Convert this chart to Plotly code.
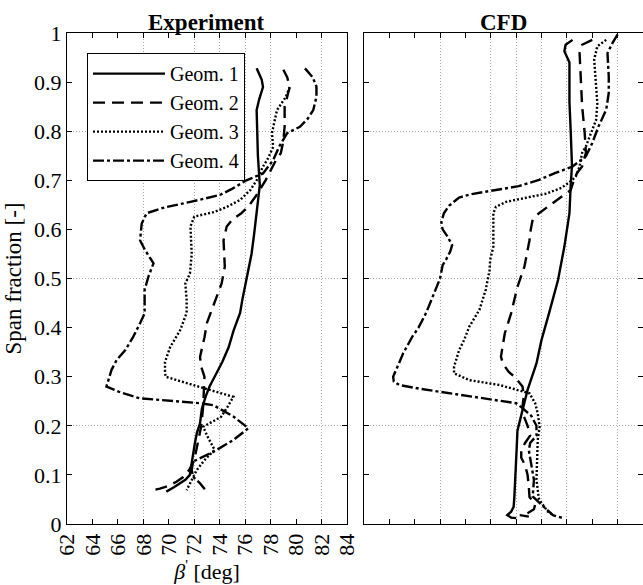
import plotly.graph_objects as go

# ---- measured flow angle profiles: span fraction vs beta' [deg] ----
# Experiment
exp_g1_span = [0.928, 0.905, 0.89, 0.865, 0.843, 0.80, 0.75, 0.69, 0.63, 0.59, 0.55, 0.50, 0.46, 0.43, 0.395,
               0.36, 0.33, 0.30, 0.28, 0.26, 0.235, 0.205, 0.185, 0.165, 0.14, 0.12, 0.10, 0.09, 0.083, 0.075, 0.066]
exp_g1_beta = [76.9, 77.3, 77.4, 77.1, 76.9, 76.95, 77.0, 77.15, 76.9, 76.7, 76.5, 76.1, 75.8, 75.6, 75.1,
               74.7, 74.2, 73.6, 73.2, 72.9, 72.6, 72.45, 72.2, 72.05, 71.9, 71.8, 71.65, 71.3, 70.9, 70.4, 69.8]

exp_g2_span = [0.925, 0.91, 0.89, 0.87, 0.85, 0.81, 0.78, 0.755, 0.74, 0.72, 0.70, 0.67, 0.645, 0.633, 0.62,
               0.606, 0.578, 0.55, 0.524, 0.49, 0.45, 0.41, 0.38, 0.34, 0.32, 0.30, 0.27, 0.24, 0.20, 0.165,
               0.13, 0.11, 0.095, 0.086, 0.078, 0.072, 0.069]
exp_g2_beta = [79.0, 79.3, 79.5, 79.3, 79.1, 79.1, 79.0, 78.8, 78.4, 78.0, 77.6, 76.9, 76.2, 75.7, 75.0,
               74.55, 74.3, 74.35, 74.4, 74.15, 73.6, 73.0, 72.8, 72.45, 72.55, 72.8, 72.75, 72.7, 72.55, 72.3,
               72.0, 71.6, 71.1, 70.6, 70.0, 69.3, 68.8]

exp_g3_span = [0.89, 0.87, 0.843, 0.82, 0.796, 0.768, 0.745, 0.728, 0.70, 0.68, 0.66, 0.645, 0.635, 0.626, 0.606,
               0.55, 0.51, 0.49, 0.456, 0.43, 0.395, 0.36, 0.33, 0.31, 0.30, 0.287, 0.273, 0.259, 0.238, 0.218,
               0.198, 0.175, 0.151, 0.13, 0.11, 0.09, 0.069]
exp_g3_beta = [79.5, 79.2, 78.5, 78.3, 78.1, 78.2, 77.8, 77.4, 76.9, 76.4, 75.6, 74.5, 73.5, 72.0, 71.7,
               71.8, 71.66, 71.3, 71.4, 71.4, 70.9, 70.1, 69.7, 69.7, 69.75, 71.4, 73.2, 75.07, 74.6, 74.1,
               72.7, 73.1, 73.6, 72.8, 72.2, 71.8, 71.4]

exp_g4_span = [0.928, 0.91, 0.891, 0.87, 0.843, 0.825, 0.809, 0.796, 0.77, 0.741, 0.714, 0.70, 0.683, 0.67, 0.656,
               0.645, 0.633, 0.612, 0.578, 0.558, 0.531, 0.504, 0.477, 0.429, 0.409, 0.381, 0.355, 0.334, 0.314, 0.295,
               0.280, 0.268, 0.256, 0.246, 0.242, 0.219, 0.195, 0.171, 0.147, 0.127, 0.11, 0.096, 0.083, 0.066]
exp_g4_beta = [80.7, 81.3, 81.6, 81.6, 81.35, 80.9, 80.3, 79.3, 78.7, 78.2, 77.4, 76.1, 75.0, 74.0, 71.7,
               69.7, 68.26, 67.87, 67.74, 68.13, 68.8, 68.4, 68.1, 68.1, 67.74, 67.2, 66.6, 65.9, 65.5, 65.3,
               65.1, 66.2, 67.7, 72.45, 73.5, 75.07, 76.25, 75.07, 73.5, 71.9, 71.8, 71.9, 72.45, 72.98]

# CFD
cfd_g1_span = [0.986, 0.976, 0.963, 0.94, 0.90, 0.86, 0.80, 0.73, 0.69, 0.633, 0.565, 0.497, 0.43, 0.375, 0.327,
               0.273, 0.232, 0.19, 0.16, 0.124, 0.09, 0.056, 0.035, 0.025, 0.018, 0.013, 0.012]
cfd_g1_beta = [78.45, 77.9, 77.8, 78.2, 78.2, 78.2, 78.3, 78.4, 78.3, 78.2, 77.8, 77.3, 76.6, 76.0, 75.6,
               74.9, 74.5, 74.1, 74.05, 74.0, 73.9, 73.86, 73.8, 73.6, 73.3, 73.6, 74.0]

cfd_g2_span = [0.986, 0.976, 0.959, 0.93, 0.898, 0.851, 0.797, 0.756, 0.728, 0.715, 0.70, 0.68, 0.667, 0.65, 0.633,
               0.62, 0.60, 0.578, 0.524, 0.483, 0.429, 0.388, 0.36, 0.341, 0.327, 0.31, 0.30, 0.28, 0.26, 0.24,
               0.22, 0.20, 0.18, 0.165, 0.15, 0.135, 0.12, 0.10, 0.075, 0.055, 0.04, 0.03, 0.022, 0.018, 0.015]
cfd_g2_beta = [80.0, 79.2, 79.0, 79.05, 79.1, 79.2, 79.4, 79.5, 79.2, 78.8, 78.55, 78.3, 77.6, 76.7, 75.8,
               75.3, 75.15, 75.05, 74.65, 74.1, 73.6, 73.1, 72.9, 72.8, 72.95, 73.4, 73.86, 74.5, 74.6, 74.5,
               74.6, 74.9, 75.1, 74.7, 74.4, 74.4, 74.7, 74.9, 75.0, 75.05, 75.5, 75.4, 74.9, 74.3, 75.0]

cfd_g3_span = [0.986, 0.973, 0.946, 0.898, 0.857, 0.823, 0.797, 0.769, 0.756, 0.728, 0.708, 0.70, 0.685, 0.673, 0.663,
               0.656, 0.646, 0.633, 0.592, 0.565, 0.538, 0.517, 0.477, 0.436, 0.402, 0.375, 0.354, 0.32, 0.307, 0.293,
               0.283, 0.273, 0.266, 0.246, 0.225, 0.198, 0.171, 0.13, 0.09, 0.05, 0.035, 0.025, 0.02]
cfd_g3_beta = [81.1, 80.4, 80.15, 80.3, 80.4, 80.3, 79.9, 79.5, 79.2, 79.0, 78.7, 78.4, 77.6, 76.4, 74.5,
               73.2, 72.4, 72.2, 72.2, 72.2, 71.95, 71.9, 71.6, 71.1, 70.3, 69.9, 69.5, 69.1, 69.1, 70.3,
               72.7, 74.0, 75.05, 75.5, 75.7, 75.85, 75.7, 75.65, 75.6, 75.8, 76.2, 76.5, 76.8]

cfd_g4_span = [0.997, 0.98, 0.959, 0.935, 0.912, 0.878, 0.844, 0.81, 0.776, 0.749, 0.728, 0.715, 0.701, 0.688, 0.681,
               0.677, 0.672, 0.665, 0.648, 0.633, 0.615, 0.60, 0.585, 0.568, 0.555, 0.54, 0.527, 0.50, 0.463, 0.43,
               0.40, 0.381, 0.348, 0.32, 0.30, 0.29, 0.283, 0.275, 0.259, 0.246, 0.236, 0.22, 0.2, 0.18, 0.165,
               0.15, 0.12, 0.09, 0.056, 0.03, 0.018, 0.012]
cfd_g4_beta = [82.0, 81.6, 81.2, 81.25, 81.3, 81.3, 81.1, 80.5, 80.0, 79.5, 78.45, 77.1, 75.8, 74.2, 72.6,
               71.6, 70.5, 69.5, 68.7, 68.3, 68.1, 68.2, 68.6, 68.95, 68.8, 68.5, 68.2, 68.0, 67.45, 66.9,
               66.3, 65.8, 65.1, 64.6, 64.3, 64.35, 64.8, 66.5, 70.6, 74.0, 74.5, 75.2, 75.6, 75.6, 75.1,
               75.0, 75.2, 75.4, 75.3, 76.4, 76.9, 77.7]

series_names = ["Geom. 1", "Geom. 2", "Geom. 3", "Geom. 4"]
panel_titles = ["Experiment", "CFD"]

# axis ticks and grid positions
x_tick_vals = [62, 64, 66, 68, 70, 72, 74, 76, 78, 80, 82, 84]
y_tick_vals = [0, 0.1, 0.2, 0.3, 0.4, 0.5, 0.6, 0.7, 0.8, 0.9, 1.0]
y_tick_text = ["0", "0.1", "0.2", "0.3", "0.4", "0.5", "0.6", "0.7", "0.8", "0.9", "1"]
x_grid_vals = [68, 72, 74, 76, 78, 82]
y_grid_vals = [0.2, 0.5, 0.8]

FONT = "Liberation Serif"
dashes = ["solid", "12px,7px", "2px,2px", "11px,3px,3px,3px"]

fig = go.Figure()

exp_data = [(exp_g1_beta, exp_g1_span), (exp_g2_beta, exp_g2_span),
            (exp_g3_beta, exp_g3_span), (exp_g4_beta, exp_g4_span)]
cfd_data = [(cfd_g1_beta, cfd_g1_span), (cfd_g2_beta, cfd_g2_span),
            (cfd_g3_beta, cfd_g3_span), (cfd_g4_beta, cfd_g4_span)]

LW = 2.4
for i, (bx, sy) in enumerate(exp_data):
    fig.add_trace(go.Scatter(x=bx, y=sy, mode="lines", name=series_names[i],
                             line=dict(color="black", width=LW, dash=dashes[i]),
                             xaxis="x", yaxis="y"))
for i, (bx, sy) in enumerate(cfd_data):
    fig.add_trace(go.Scatter(x=bx, y=sy, mode="lines", name=series_names[i],
                             line=dict(color="black", width=LW, dash=dashes[i]),
                             xaxis="x2", yaxis="y2", showlegend=False))

# empty traces that carry the dotted grid axes
fig.add_trace(go.Scatter(x=[], y=[], xaxis="x3", yaxis="y3", showlegend=False, hoverinfo="skip"))
fig.add_trace(go.Scatter(x=[], y=[], xaxis="x4", yaxis="y4", showlegend=False, hoverinfo="skip"))

common = dict(showline=True, linecolor="black", linewidth=1, mirror="ticks",
              ticks="inside", ticklen=5, tickcolor="black", tickwidth=1,
              showgrid=False, zeroline=False, automargin=False,
              tickfont=dict(family=FONT, size=22, color="black"))
grid_common = dict(showgrid=True, griddash="1px,2px", gridcolor="#a8a8a8", gridwidth=1,
                   showticklabels=False, ticks="", showline=False, zeroline=False, automargin=False)

left_dom = [0.0, 0.4861]
right_dom = [0.5156, 1.0]

fig.update_layout(
    width=643, height=585, autosize=False,
    margin=dict(l=67, r=0, t=33, b=61, pad=0, autoexpand=False),
    paper_bgcolor="white", plot_bgcolor="white",
    font=dict(family=FONT, color="black"),
    xaxis=dict(domain=left_dom, range=[62, 84], tickmode="array", tickvals=x_tick_vals,
               tickangle=-90, anchor="y",
               title=dict(text="<i>β</i><sup>'</sup> [deg]", font=dict(family=FONT, size=22), standoff=4),
               **common),
    yaxis=dict(domain=[0, 1], range=[0, 1], tickmode="array", tickvals=y_tick_vals, ticktext=y_tick_text,
               anchor="x",
               title=dict(text="Span fraction [-]", font=dict(family=FONT, size=23), standoff=6),
               **common),
    xaxis2=dict(domain=right_dom, range=[62, 84], tickmode="array", tickvals=x_tick_vals,
                showticklabels=False, anchor="y2", **common),
    yaxis2=dict(domain=[0, 1], range=[0, 1], tickmode="array", tickvals=y_tick_vals,
                showticklabels=False, anchor="x2", **common),
    xaxis3=dict(overlaying="x", range=[62, 84], tickmode="array", tickvals=x_grid_vals, anchor="y3", **grid_common),
    yaxis3=dict(overlaying="y", range=[0, 1], tickmode="array", tickvals=y_grid_vals, anchor="x3", **grid_common),
    xaxis4=dict(overlaying="x2", range=[62, 84], tickmode="array", tickvals=x_grid_vals, anchor="y4", **grid_common),
    yaxis4=dict(overlaying="y2", range=[0, 1], tickmode="array", tickvals=y_grid_vals, anchor="x4", **grid_common),
    legend=dict(x=0.0347, y=0.959, xanchor="left", yanchor="top",
                bordercolor="black", borderwidth=1, bgcolor="white",
                font=dict(family=FONT, size=20, color="black"),
                itemwidth=72, tracegroupgap=0),
    showlegend=True,
)

for title, ax in zip(panel_titles, ["x", "x2"]):
    fig.add_annotation(text="<b>%s</b>" % title, xref="%s domain" % ax, yref="paper",
                       x=0.5, y=1, xanchor="center", yanchor="bottom", showarrow=False,
                       font=dict(family=FONT, size=23, color="black"), yshift=-4)

fig.write_html("out.html")
